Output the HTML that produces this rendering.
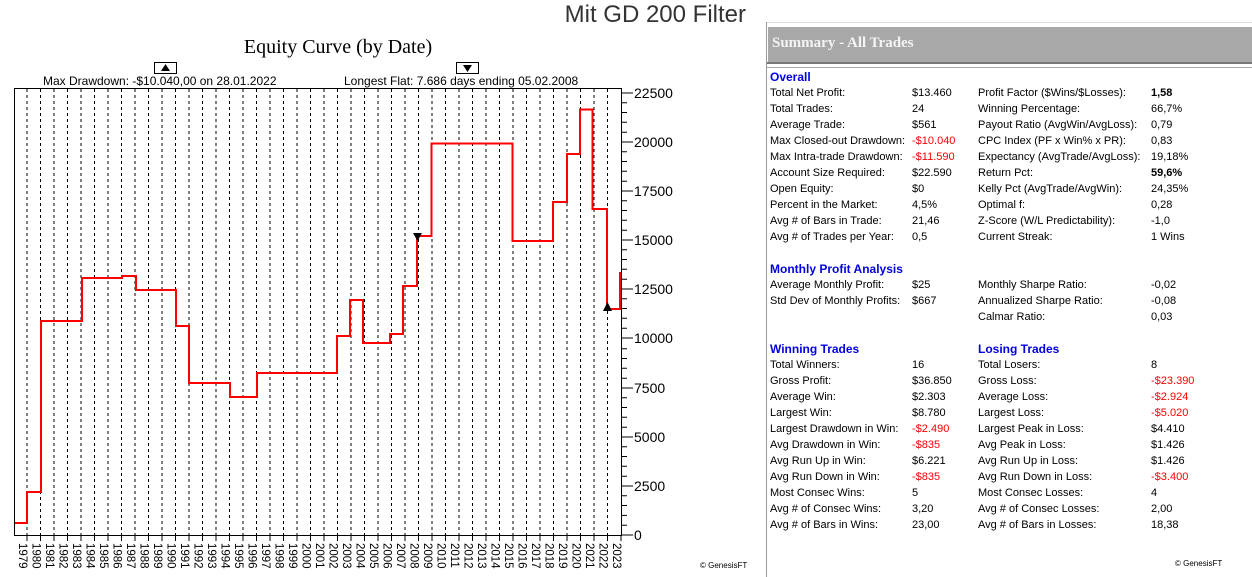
<!DOCTYPE html>
<html><head><meta charset="utf-8"><style>
html,body{margin:0;padding:0;background:#fff;}
body{width:1252px;height:577px;overflow:hidden;position:relative;font-family:"Liberation Sans",sans-serif;}
.r{position:absolute;font-size:11px;color:#000;white-space:nowrap;line-height:14px;}
.h{position:absolute;font-size:12px;font-weight:bold;color:#0000e0;line-height:14px;}
.red{color:#f00;}
</style></head><body>
<svg width="766" height="577" style="position:absolute;left:0;top:0" font-family="Liberation Sans, sans-serif">
<text x="746" y="22" text-anchor="end" font-size="24" fill="#333">Mit GD 200 Filter</text>
<text x="338" y="53" text-anchor="middle" font-size="20" font-family="Liberation Serif, serif" fill="#000">Equity Curve (by Date)</text>
<rect x="154.5" y="62.5" width="22" height="11" fill="#fff" stroke="#000"/>
<polygon points="161,71 170,71 165.5,64" fill="#000"/>
<rect x="456.5" y="62.5" width="22" height="11" fill="#fff" stroke="#000"/>
<polygon points="463,65 472,65 467.5,72" fill="#000"/>
<text x="43" y="85" font-size="12" fill="#000">Max Drawdown: -$10.040,00 on 28.01.2022</text>
<text x="344" y="85" font-size="12" fill="#000">Longest Flat: 7.686 days ending 05.02.2008</text>
<path d="M27 89V535M40.5 89V535M54 89V535M67.5 89V535M81 89V535M94.5 89V535M108 89V535M121.5 89V535M135 89V535M148.5 89V535M162 89V535M175.5 89V535M189 89V535M202.5 89V535M216 89V535M229.5 89V535M243 89V535M256.5 89V535M270 89V535M283.5 89V535M297 89V535M310.5 89V535M324 89V535M337.5 89V535M351 89V535M364.5 89V535M378 89V535M391.5 89V535M405 89V535M418.5 89V535M432 89V535M445.5 89V535M459 89V535M472.5 89V535M486 89V535M499.5 89V535M513 89V535M526.5 89V535M540 89V535M553.5 89V535M567 89V535M580.5 89V535M594 89V535M607.5 89V535" stroke="#000" stroke-width="1" stroke-dasharray="3,3" fill="none"/>
<rect x="14.5" y="88.5" width="607" height="447" fill="none" stroke="#000" stroke-width="1"/>
<g stroke="#000" stroke-width="1">
<path d="M621 535H633M621 486H633M621 437H633M621 388H633M621 338H633M621 289H633M621 240H633M621 191H633M621 142H633M621 93H633"/>
<path d="M621 525.2H627M621 515.4H627M621 505.5H627M621 495.7H627M621 476.2H627M621 466.3H627M621 456.5H627M621 446.7H627M621 427.2H627M621 417.3H627M621 407.5H627M621 397.7H627M621 378.2H627M621 368.3H627M621 358.5H627M621 348.7H627M621 328.2H627M621 318.3H627M621 308.5H627M621 298.7H627M621 279.2H627M621 269.3H627M621 259.5H627M621 249.7H627M621 230.2H627M621 220.3H627M621 210.5H627M621 200.7H627M621 181.2H627M621 171.3H627M621 161.5H627M621 151.7H627M621 132.2H627M621 122.3H627M621 112.5H627M621 102.7H627"/>
<path d="M27 535V541M40.5 535V541M54 535V541M67.5 535V541M81 535V541M94.5 535V541M108 535V541M121.5 535V541M135 535V541M148.5 535V541M162 535V541M175.5 535V541M189 535V541M202.5 535V541M216 535V541M229.5 535V541M243 535V541M256.5 535V541M270 535V541M283.5 535V541M297 535V541M310.5 535V541M324 535V541M337.5 535V541M351 535V541M364.5 535V541M378 535V541M391.5 535V541M405 535V541M418.5 535V541M432 535V541M445.5 535V541M459 535V541M472.5 535V541M486 535V541M499.5 535V541M513 535V541M526.5 535V541M540 535V541M553.5 535V541M567 535V541M580.5 535V541M594 535V541M607.5 535V541M621 535V541"/>
</g>
<g font-size="14" fill="#000">
<text x="634" y="540">0</text><text x="634" y="491">2500</text><text x="634" y="442">5000</text><text x="634" y="393">7500</text><text x="634" y="343">10000</text><text x="634" y="294">12500</text><text x="634" y="245">15000</text><text x="634" y="196">17500</text><text x="634" y="147">20000</text><text x="634" y="98">22500</text>
</g>
<g font-size="11.5" fill="#000">
<text transform="translate(19,543) rotate(90)">1979</text>
<text transform="translate(32.5,543) rotate(90)">1980</text>
<text transform="translate(46,543) rotate(90)">1981</text>
<text transform="translate(59.5,543) rotate(90)">1982</text>
<text transform="translate(73,543) rotate(90)">1983</text>
<text transform="translate(86.5,543) rotate(90)">1984</text>
<text transform="translate(100,543) rotate(90)">1985</text>
<text transform="translate(113.5,543) rotate(90)">1986</text>
<text transform="translate(127,543) rotate(90)">1987</text>
<text transform="translate(140.5,543) rotate(90)">1988</text>
<text transform="translate(154,543) rotate(90)">1989</text>
<text transform="translate(167.5,543) rotate(90)">1990</text>
<text transform="translate(181,543) rotate(90)">1991</text>
<text transform="translate(194.5,543) rotate(90)">1992</text>
<text transform="translate(208,543) rotate(90)">1993</text>
<text transform="translate(221.5,543) rotate(90)">1994</text>
<text transform="translate(235,543) rotate(90)">1995</text>
<text transform="translate(248.5,543) rotate(90)">1996</text>
<text transform="translate(262,543) rotate(90)">1997</text>
<text transform="translate(275.5,543) rotate(90)">1998</text>
<text transform="translate(289,543) rotate(90)">1999</text>
<text transform="translate(302.5,543) rotate(90)">2000</text>
<text transform="translate(316,543) rotate(90)">2001</text>
<text transform="translate(329.5,543) rotate(90)">2002</text>
<text transform="translate(343,543) rotate(90)">2003</text>
<text transform="translate(356.5,543) rotate(90)">2004</text>
<text transform="translate(370,543) rotate(90)">2005</text>
<text transform="translate(383.5,543) rotate(90)">2006</text>
<text transform="translate(397,543) rotate(90)">2007</text>
<text transform="translate(410.5,543) rotate(90)">2008</text>
<text transform="translate(424,543) rotate(90)">2009</text>
<text transform="translate(437.5,543) rotate(90)">2010</text>
<text transform="translate(451,543) rotate(90)">2011</text>
<text transform="translate(464.5,543) rotate(90)">2012</text>
<text transform="translate(478,543) rotate(90)">2013</text>
<text transform="translate(491.5,543) rotate(90)">2014</text>
<text transform="translate(505,543) rotate(90)">2015</text>
<text transform="translate(518.5,543) rotate(90)">2016</text>
<text transform="translate(532,543) rotate(90)">2017</text>
<text transform="translate(545.5,543) rotate(90)">2018</text>
<text transform="translate(559,543) rotate(90)">2019</text>
<text transform="translate(572.5,543) rotate(90)">2020</text>
<text transform="translate(586,543) rotate(90)">2021</text>
<text transform="translate(599.5,543) rotate(90)">2022</text>
<text transform="translate(613,543) rotate(90)">2023</text>
</g>
<text x="700" y="568" font-size="8" fill="#000">© GenesisFT</text>
<polyline fill="none" stroke="#f00" stroke-width="2" points="15,523 27,523 27,492 41,492 41,321 82,321 82,278 122,278 122,276 136,276 136,290 176,290 176,326 189,326 189,383 230,383 230,397 257,397 257,373 337,373 337,336 350,336 350,300 363,300 363,343 390,343 390,334 403,334 403,286 417,286 417,236 431.5,236 431.5,143.5 512.5,143.5 512.5,241 553,241 553,202 567,202 567,154 580,154 580,109.5 592.5,109.5 592.5,209 607,209 607,309 620,309 620,272"/>
<polygon points="413,233 422,233 417.5,241" fill="#000"/>
<polygon points="603,311 612,311 607.5,302" fill="#000"/>
</svg>

<div style="position:absolute;left:766px;top:22px;width:1px;height:555px;background:#999"></div>
<div style="position:absolute;left:767px;top:22px;width:485px;height:1px;background:#ddd"></div>
<div style="position:absolute;left:768px;top:27px;width:484px;height:35px;background:#a8a8a8"></div>
<div style="position:absolute;left:772px;top:35px;font-family:'Liberation Serif',serif;font-weight:bold;font-size:15px;color:#f4f4f4">Summary - All Trades</div>
<div style="position:absolute;left:767px;top:62px;width:485px;height:2px;background:#777"></div>
<div style="position:absolute;left:767px;top:67px;width:485px;height:1px;background:#aaa"></div>

<div class="h" style="left:770px;top:70px">Overall</div>
<div class="r" style="left:770px;top:86px">Total Net Profit:</div><div class="r" style="left:912px;top:86px">$13.460</div><div class="r" style="left:978px;top:86px">Profit Factor ($Wins/$Losses):</div><div class="r" style="left:1151px;top:86px;font-weight:bold">1,58</div>
<div class="r" style="left:770px;top:102px">Total Trades:</div><div class="r" style="left:912px;top:102px">24</div><div class="r" style="left:978px;top:102px">Winning Percentage:</div><div class="r" style="left:1151px;top:102px">66,7%</div>
<div class="r" style="left:770px;top:118px">Average Trade:</div><div class="r" style="left:912px;top:118px">$561</div><div class="r" style="left:978px;top:118px">Payout Ratio (AvgWin/AvgLoss):</div><div class="r" style="left:1151px;top:118px">0,79</div>
<div class="r" style="left:770px;top:134px">Max Closed-out Drawdown:</div><div class="r red" style="left:912px;top:134px">-$10.040</div><div class="r" style="left:978px;top:134px">CPC Index (PF x Win% x PR):</div><div class="r" style="left:1151px;top:134px">0,83</div>
<div class="r" style="left:770px;top:150px">Max Intra-trade Drawdown:</div><div class="r red" style="left:912px;top:150px">-$11.590</div><div class="r" style="left:978px;top:150px">Expectancy (AvgTrade/AvgLoss):</div><div class="r" style="left:1151px;top:150px">19,18%</div>
<div class="r" style="left:770px;top:166px">Account Size Required:</div><div class="r" style="left:912px;top:166px">$22.590</div><div class="r" style="left:978px;top:166px">Return Pct:</div><div class="r" style="left:1151px;top:166px;font-weight:bold">59,6%</div>
<div class="r" style="left:770px;top:182px">Open Equity:</div><div class="r" style="left:912px;top:182px">$0</div><div class="r" style="left:978px;top:182px">Kelly Pct (AvgTrade/AvgWin):</div><div class="r" style="left:1151px;top:182px">24,35%</div>
<div class="r" style="left:770px;top:198px">Percent in the Market:</div><div class="r" style="left:912px;top:198px">4,5%</div><div class="r" style="left:978px;top:198px">Optimal f:</div><div class="r" style="left:1151px;top:198px">0,28</div>
<div class="r" style="left:770px;top:214px">Avg # of Bars in Trade:</div><div class="r" style="left:912px;top:214px">21,46</div><div class="r" style="left:978px;top:214px">Z-Score (W/L Predictability):</div><div class="r" style="left:1151px;top:214px">-1,0</div>
<div class="r" style="left:770px;top:230px">Avg # of Trades per Year:</div><div class="r" style="left:912px;top:230px">0,5</div><div class="r" style="left:978px;top:230px">Current Streak:</div><div class="r" style="left:1151px;top:230px">1 Wins</div>

<div class="h" style="left:770px;top:262px">Monthly Profit Analysis</div>
<div class="r" style="left:770px;top:278px">Average Monthly Profit:</div><div class="r" style="left:912px;top:278px">$25</div><div class="r" style="left:978px;top:278px">Monthly Sharpe Ratio:</div><div class="r" style="left:1151px;top:278px">-0,02</div>
<div class="r" style="left:770px;top:294px">Std Dev of Monthly Profits:</div><div class="r" style="left:912px;top:294px">$667</div><div class="r" style="left:978px;top:294px">Annualized Sharpe Ratio:</div><div class="r" style="left:1151px;top:294px">-0,08</div>
<div class="r" style="left:978px;top:310px">Calmar Ratio:</div><div class="r" style="left:1151px;top:310px">0,03</div>

<div class="h" style="left:770px;top:342px">Winning Trades</div><div class="h" style="left:978px;top:342px">Losing Trades</div>
<div class="r" style="left:770px;top:358px">Total Winners:</div><div class="r" style="left:912px;top:358px">16</div><div class="r" style="left:978px;top:358px">Total Losers:</div><div class="r" style="left:1151px;top:358px">8</div>
<div class="r" style="left:770px;top:374px">Gross Profit:</div><div class="r" style="left:912px;top:374px">$36.850</div><div class="r" style="left:978px;top:374px">Gross Loss:</div><div class="r red" style="left:1151px;top:374px">-$23.390</div>
<div class="r" style="left:770px;top:390px">Average Win:</div><div class="r" style="left:912px;top:390px">$2.303</div><div class="r" style="left:978px;top:390px">Average Loss:</div><div class="r red" style="left:1151px;top:390px">-$2.924</div>
<div class="r" style="left:770px;top:406px">Largest Win:</div><div class="r" style="left:912px;top:406px">$8.780</div><div class="r" style="left:978px;top:406px">Largest Loss:</div><div class="r red" style="left:1151px;top:406px">-$5.020</div>
<div class="r" style="left:770px;top:422px">Largest Drawdown in Win:</div><div class="r red" style="left:912px;top:422px">-$2.490</div><div class="r" style="left:978px;top:422px">Largest Peak in Loss:</div><div class="r" style="left:1151px;top:422px">$4.410</div>
<div class="r" style="left:770px;top:438px">Avg Drawdown in Win:</div><div class="r red" style="left:912px;top:438px">-$835</div><div class="r" style="left:978px;top:438px">Avg Peak in Loss:</div><div class="r" style="left:1151px;top:438px">$1.426</div>
<div class="r" style="left:770px;top:454px">Avg Run Up in Win:</div><div class="r" style="left:912px;top:454px">$6.221</div><div class="r" style="left:978px;top:454px">Avg Run Up in Loss:</div><div class="r" style="left:1151px;top:454px">$1.426</div>
<div class="r" style="left:770px;top:470px">Avg Run Down in Win:</div><div class="r red" style="left:912px;top:470px">-$835</div><div class="r" style="left:978px;top:470px">Avg Run Down in Loss:</div><div class="r red" style="left:1151px;top:470px">-$3.400</div>
<div class="r" style="left:770px;top:486px">Most Consec Wins:</div><div class="r" style="left:912px;top:486px">5</div><div class="r" style="left:978px;top:486px">Most Consec Losses:</div><div class="r" style="left:1151px;top:486px">4</div>
<div class="r" style="left:770px;top:502px">Avg # of Consec Wins:</div><div class="r" style="left:912px;top:502px">3,20</div><div class="r" style="left:978px;top:502px">Avg # of Consec Losses:</div><div class="r" style="left:1151px;top:502px">2,00</div>
<div class="r" style="left:770px;top:518px">Avg # of Bars in Wins:</div><div class="r" style="left:912px;top:518px">23,00</div><div class="r" style="left:978px;top:518px">Avg # of Bars in Losses:</div><div class="r" style="left:1151px;top:518px">18,38</div>
<div class="r" style="left:1175px;top:557px;font-size:8px">© GenesisFT</div>
</body></html>
